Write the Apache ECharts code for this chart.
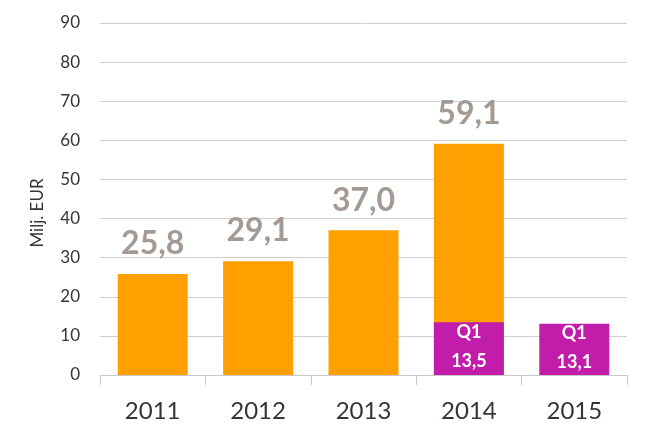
<!DOCTYPE html>
<html>
<head>
<meta charset="utf-8">
<script src="https://cdn.jsdelivr.net/npm/echarts@6/dist/echarts.min.js"></script>
<style>html,body{margin:0;padding:0;background:#fff}#c{width:650px;height:443px}</style>
</head>
<body>
<div id="c"></div>
<script>
const categories = ['2011', '2012', '2013', '2014', '2015'];
const annualValues = [25.8, 29.1, 37.0, 59.1, null];
const q1Values = [null, null, null, 13.5, 13.1];
const yTicks = [0, 10, 20, 30, 40, 50, 60, 70, 80, 90];

const fmt = v => v.toFixed(1).replace('.', ',');
const chart = echarts.init(document.getElementById('c'));
chart.setOption({
  animation: false,
  grid: { left: 100, right: 23, top: 23, bottom: 68 },
  xAxis: {
    type: 'category',
    data: categories,
    axisLine: { lineStyle: { color: '#c8c8c8', width: 1 } },
    axisTick: { show: true, length: 10, lineStyle: { color: '#c8c8c8' } },
    axisLabel: { fontFamily: 'Lato', fontSize: 24, color: '#3a3333', margin: 24 }
  },
  yAxis: {
    type: 'value',
    min: yTicks[0],
    max: yTicks[yTicks.length - 1],
    interval: 10,
    name: 'Milj. EUR',
    nameLocation: 'middle',
    nameGap: 54,
    nameTextStyle: { fontFamily: 'Lato', fontSize: 17, color: '#3a3333', padding: [0, 28, 0, 0] },
    axisLine: { show: false },
    axisTick: { show: false },
    splitLine: { lineStyle: { color: '#d0d0d0', width: 1 } },
    axisLabel: { fontFamily: 'Lato', fontSize: 17, color: '#3a3333', margin: 20 }
  },
  series: [
    {
      type: 'bar',
      data: annualValues,
      barWidth: 70,
      barGap: '-100%',
      itemStyle: { color: '#FFA000' },
      label: {
        show: true, position: 'top', distance: 14,
        fontFamily: 'Lato', fontWeight: 'bold', fontSize: 32, color: '#a39a94',
        formatter: p => fmt(p.value)
      }
    },
    {
      type: 'bar',
      data: q1Values,
      barWidth: 70,
      itemStyle: { color: '#C21CAA' },
      label: {
        show: true, position: 'inside', offset: [0, -2],
        fontFamily: 'Lato', fontWeight: 'bold', fontSize: 18, color: '#ffffff', lineHeight: 29,
        formatter: p => 'Q1\n' + fmt(p.value)
      }
    }
  ]
});
</script>
</body>
</html>
